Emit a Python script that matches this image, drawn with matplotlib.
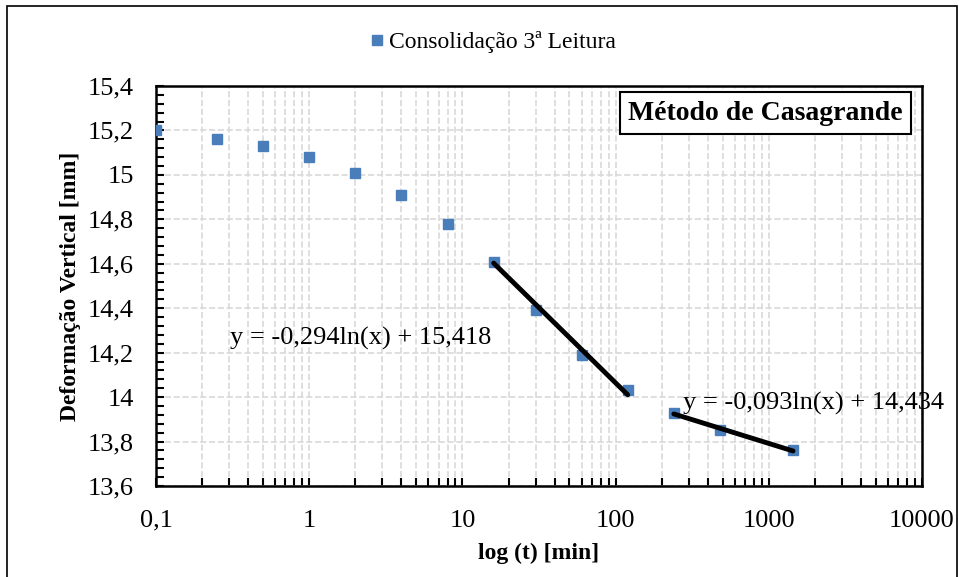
import matplotlib
matplotlib.use('Agg')
import matplotlib.pyplot as plt
import numpy as np
from matplotlib.ticker import LogLocator, MultipleLocator, FixedLocator, FixedFormatter
from matplotlib.patches import Rectangle

plt.rcParams['font.family'] = ['Liberation Serif', 'DejaVu Serif']

# consolidation readings: time [min] and vertical deformation [mm]
t = [0.1, 0.25, 0.5, 1, 2, 4, 8, 16, 30, 60, 120, 240, 480, 1440]
d = [15.20, 15.16, 15.13, 15.08, 15.01, 14.91, 14.78, 14.61, 14.39, 14.19, 14.03, 13.93, 13.85, 13.76]

# log trendlines y = a*ln(x) + b over their ranges
fit1 = (-0.294, 15.418, 16, 120)
fit2 = (-0.093, 14.434, 240, 1440)
eq1 = "y = -0,294ln(x) + 15,418"
eq2 = "y = -0,093ln(x) + 14,434"

xticks = [0.1, 1, 10, 100, 1000, 10000]
xlabels = ["0,1", "1", "10", "100", "1000", "10000"]
yticks = [13.6, 13.8, 14.0, 14.2, 14.4, 14.6, 14.8, 15.0, 15.2, 15.4]
ylabels = ["13,6", "13,8", "14", "14,2", "14,4", "14,6", "14,8", "15", "15,2", "15,4"]

fig = plt.figure(figsize=(9.59, 5.77), dpi=100)
ax = fig.add_axes([0.1627, 0.1577, 0.7987, 0.6933])

ax.plot(t, d, 's', color='#4a7ebb', markersize=7.5, label='Consolidação 3ª Leitura', zorder=3)

for a, b, x0, x1 in (fit1, fit2):
    xx = np.logspace(np.log10(x0), np.log10(x1), 50)
    ax.plot(xx, a * np.log(xx) + b, color='black', linewidth=3.5, zorder=4,
            solid_capstyle='round')

ax.set_xscale('log')
ax.set_xlim(0.1, 10000)
ax.set_ylim(13.6, 15.4)

ax.xaxis.set_major_locator(FixedLocator(xticks))
ax.xaxis.set_major_formatter(FixedFormatter(xlabels))
ax.xaxis.set_minor_locator(LogLocator(base=10, subs=np.arange(2, 10)))
ax.xaxis.set_minor_formatter(plt.NullFormatter())
ax.yaxis.set_major_locator(FixedLocator(yticks))
ax.yaxis.set_major_formatter(FixedFormatter(ylabels))
ax.yaxis.set_minor_locator(MultipleLocator(0.04))

ax.tick_params(which='both', direction='in', length=6, width=1.5, labelsize=19)
ax.tick_params(axis='y', which='both', left=True, right=False, pad=16)
ax.tick_params(axis='x', which='both', top=False, pad=17)

ax.grid(True, which='major', axis='both', color='#d9d9d9', linestyle='--', linewidth=1.2)
ax.grid(True, which='minor', axis='x', color='#d9d9d9', linestyle='--', linewidth=1.2)
ax.set_axisbelow(True)

for s in ax.spines.values():
    s.set_linewidth(1.8)

ax.set_xlabel('log (t) [min]', fontsize=17, fontweight='bold', labelpad=8)
ax.set_ylabel('Deformação Vertical [mm]', fontsize=17, fontweight='bold', labelpad=5)

# equation labels, placed in pixel coordinates
ax.text(230, 577 - 338, eq1, transform=None, fontsize=19, va='center', ha='left', zorder=5)
ax.text(683, 577 - 403, eq2, transform=None, fontsize=19, va='center', ha='left', zorder=5)

ax.text(0.798, 0.804, 'Método de Casagrande', transform=fig.transFigure, fontsize=20,
        fontweight='bold', ha='center', va='center',
        bbox=dict(boxstyle='square,pad=0.3', facecolor='white', edgecolor='black', linewidth=1.5),
        zorder=6)

leg = fig.legend(loc='center', bbox_to_anchor=(0.513, 0.927), frameon=False, fontsize=17,
                 handletextpad=0.1, markerscale=0.9, handlelength=0.8)

fig.patches.append(Rectangle((0.007, -0.01), 0.991, 1.0, transform=fig.transFigure,
                             fill=False, edgecolor='black', linewidth=1.2))

fig.savefig('out.png', dpi=100)
